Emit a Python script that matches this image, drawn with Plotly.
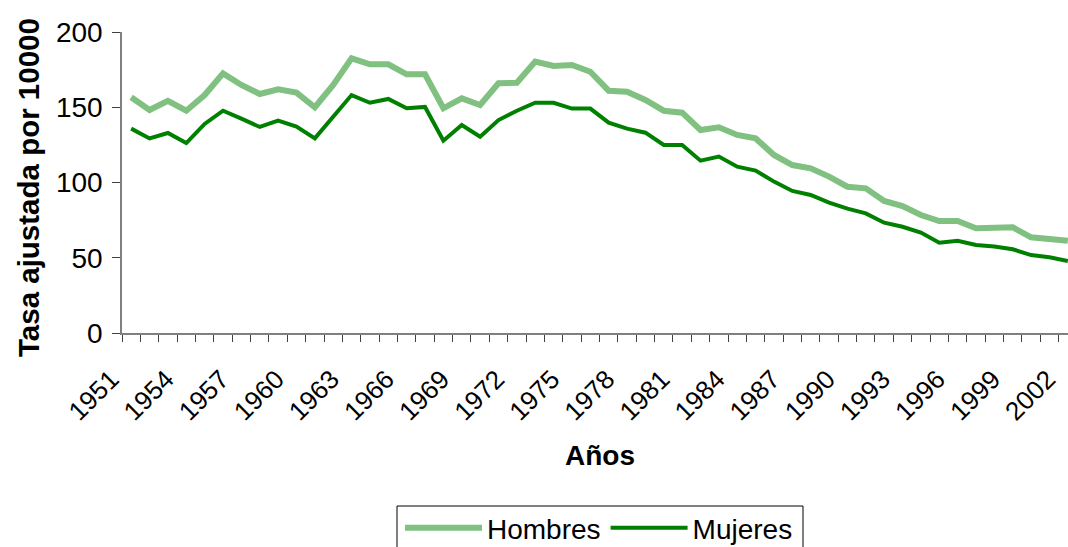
import plotly.graph_objects as go

years = list(range(1951, 2003))
hombres = [156.6, 148.2, 154.3, 147.7, 158.1, 172.5, 164.8, 158.8, 161.9, 159.7,
           150.0, 164.8, 182.5, 178.5, 178.5, 171.9, 171.9, 149.3, 155.9, 151.5,
           165.9, 166.3, 180.3, 177.4, 178.1, 173.6, 161.0, 160.3, 154.8, 147.7,
           146.4, 134.9, 136.7, 131.6, 129.3, 118.3, 111.6, 109.4, 103.9, 97.2,
           96.1, 87.7, 84.4, 78.4, 74.4, 74.4, 69.6, 70.2, 70.2, 63.6,
           62.5, 61.3]
mujeres = [135.8, 129.3, 132.9, 126.2, 138.9, 147.7, 142.4, 136.9, 141.1, 137.1,
           129.3, 143.7, 158.1, 153.0, 155.5, 149.3, 150.2, 127.8, 138.2, 130.4,
           141.5, 147.7, 153.0, 153.0, 149.1, 149.1, 139.8, 135.8, 133.1, 124.9,
           124.9, 114.5, 117.2, 110.5, 107.9, 100.6, 94.4, 91.7, 86.6, 82.6,
           79.5, 73.3, 70.6, 66.7, 60.0, 61.3, 58.5, 57.4, 55.6, 51.8,
           50.3, 47.8]
label_years = list(range(1951, 2003, 3))
y_ticks = [0, 50, 100, 150, 200]

FONT = "Liberation Sans, Arial, sans-serif"
L, R, T, B, W, H = 122, 0, 32, 214, 1068, 547
PW, PH = W - L - R, H - T - B


def px_x(v):
    return (v - L) / PW


def px_y(v):
    return (333 - v) / PH


fig = go.Figure()
fig.add_trace(go.Scatter(x=years, y=hombres, mode="lines", name="Hombres",
                         line=dict(color="#80c080", width=6)))
fig.add_trace(go.Scatter(x=years, y=mujeres, mode="lines", name="Mujeres",
                         line=dict(color="#008000", width=4)))

fig.update_layout(
    width=W, height=H,
    margin=dict(l=L, r=R, t=T, b=B, autoexpand=False),
    paper_bgcolor="white", plot_bgcolor="white",
    font=dict(family=FONT, color="black", size=28),
    showlegend=True,
    legend=dict(orientation="h", x=px_x(599), xanchor="center",
                y=px_y(528), yanchor="middle",
                borderwidth=0, bgcolor="rgba(0,0,0,0)",
                font=dict(size=28, family=FONT), itemwidth=77,
                traceorder="normal"),
    shapes=[dict(type="rect", xref="paper", yref="paper",
                 x0=px_x(397), x1=px_x(803), y0=px_y(506), y1=px_y(570),
                 line=dict(color="black", width=1), fillcolor="rgba(0,0,0,0)",
                 layer="below")],
    annotations=[
        dict(text="<b>Tasa ajustada por 10000</b>", textangle=-90,
             xref="paper", yref="paper", x=px_x(28), y=px_y(188),
             xanchor="center", yanchor="middle", showarrow=False,
             font=dict(size=29.5, family=FONT, color="black")),
        dict(text="<b>Años</b>", xref="paper", yref="paper",
             x=px_x(600), y=px_y(455),
             xanchor="center", yanchor="middle", showarrow=False,
             font=dict(size=28, family=FONT, color="black")),
    ],
)
fig.update_xaxes(
    range=[1950.5, 2002.01], tickmode="array", tickvals=label_years,
    ticktext=[str(v) for v in label_years], tickangle=-45, ticks="",
    automargin=False, ticklabelstandoff=19, ticklabelshift=-20,
    ticklabeloverflow="allow",
    showgrid=False, zeroline=False, showline=True, linecolor="#808080", linewidth=1.5,
    tickfont=dict(size=26, family=FONT),
    minor=dict(tick0=1950.5, dtick=1, ticks="outside", ticklen=7, tickcolor="#404040", showgrid=False),
)
fig.update_yaxes(
    range=[0, 200], tickmode="array", tickvals=y_ticks, ticks="outside", ticklen=8,
    automargin=False, ticklabelstandoff=4,
    tickcolor="#404040", showgrid=False, zeroline=False, showline=True,
    linecolor="#808080", linewidth=1.5, tickfont=dict(size=28, family=FONT),
)

fig.write_html("out.html", config={"displayModeBar": False},
               post_script="document.body.style.margin='0px';")
